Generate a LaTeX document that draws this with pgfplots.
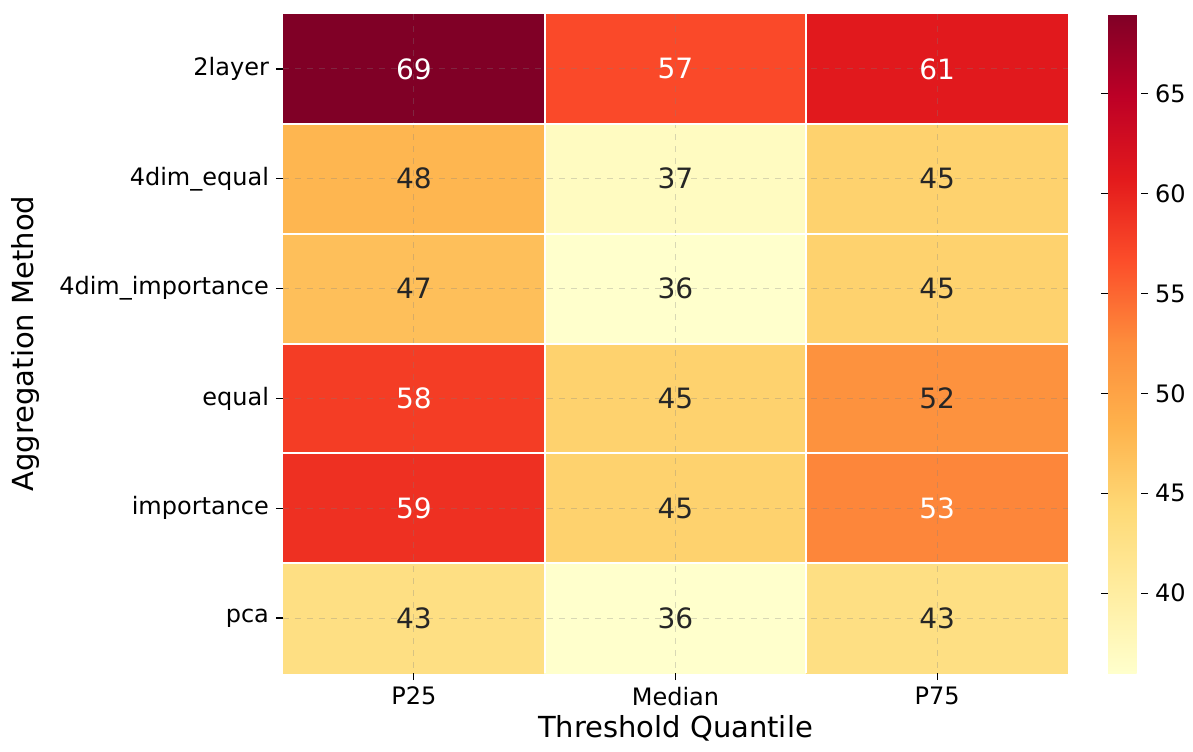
\documentclass[border=0pt]{standalone}
\usepackage{pgfplots}
\pgfplotsset{compat=1.18}
\usepackage{pgfplotstable}
\usepackage{fontspec}
\setmainfont{DejaVu Sans}

% cell values: column (x), row (y, top to bottom), value
\pgfplotstableread{
x y v
0 0 69
1 0 57
2 0 61
0 1 48
1 1 37
2 1 45
0 2 47
1 2 36
2 2 45
0 3 58
1 3 45
2 3 52
0 4 59
1 4 45
2 4 53
0 5 43
1 5 36
2 5 43
}\heat

\pgfplotsset{
  /pgf/number format/assume math mode=true,
  colormap={ylorrd}{
    rgb255=(255,255,204) rgb255=(255,237,160) rgb255=(254,217,118)
    rgb255=(254,178,76) rgb255=(253,141,60) rgb255=(252,78,42)
    rgb255=(227,26,28) rgb255=(189,0,38) rgb255=(128,0,38)},
}

\definecolor{annodark}{HTML}{262626}

\begin{document}
\begin{tikzpicture}
\path[use as bounding box] (-141.5pt,-39pt) rectangle (455pt,336.5pt);
\begin{axis}[
  scale only axis,
  width=392.5pt, height=329.5pt,
  xmin=-0.5, xmax=2.5, ymin=-0.5, ymax=5.5,
  y dir=reverse,
  xtick={0,1,2}, xticklabels={P25,Median,P75},
  ytick={0,...,5},
  yticklabels={2layer,4dim\_equal,4dim\_importance,equal,importance,pca},
  xtick pos=bottom, ytick pos=left,
  tick align=outside,
  major tick length=3.5pt,
  tick style={black, line width=0.6pt},
  axis line style={draw=none},
  ticklabel style={font=\fontsize{12}{14}\selectfont},
  xlabel={Threshold Quantile},
  ylabel={Aggregation Method},
  every axis x label/.style={at={(axis description cs:0.5,-0.0835)}, anchor=center,
    font=\fontsize{14.5}{17}\selectfont},
  every axis y label/.style={at={(axis description cs:-0.3274,0.5)}, rotate=90, anchor=center,
    font=\fontsize{14.5}{17}\selectfont},
  grid=major,
  major grid style={dashed, gray, opacity=0.3, line width=0.5pt},
  extra x ticks={0.5,1.5}, extra x tick labels={},
  extra y ticks={0.5,1.5,2.5,3.5,4.5}, extra y tick labels={},
  extra tick style={major tick length=0pt,
    major grid style={solid, white, opacity=1, line width=1pt}},
  axis on top,
  colormap name=ylorrd,
  point meta min=36, point meta max=69,
  colorbar,
  colorbar style={
    at={(parent axis.north east)}, anchor=north west, xshift=11.5pt,
    width=16.5pt,
    ytick={40,45,...,65},
    axis line style={draw=none},
    tick align=outside,
    major tick length=3.5pt,
    tick style={black, line width=0.6pt},
    yticklabel style={font=\fontsize{12}{14}\selectfont},
  },
]
\addplot[matrix plot*, mesh/cols=3, point meta=explicit]
  table[x=x, y=y, meta=v] {\heat};

% value labels, light text on the darker cells
\addplot[draw=none, mark=none, point meta=\thisrow{v},
  restrict expr to domain={\thisrow{v}}{53:100},
  nodes near coords={\pgfmathprintnumber{\pgfplotspointmeta}},
  nodes near coords align=center,
  every node near coord/.append style={anchor=center, text=white,
    font=\fontsize{14}{16}\selectfont}]
  table[x=x, y=y] {\heat};
\addplot[draw=none, mark=none, point meta=\thisrow{v},
  restrict expr to domain={\thisrow{v}}{0:52.9},
  nodes near coords={\pgfmathprintnumber{\pgfplotspointmeta}},
  nodes near coords align=center,
  every node near coord/.append style={anchor=center, text=annodark,
    font=\fontsize{14}{16}\selectfont}]
  table[x=x, y=y] {\heat};
\end{axis}
\end{tikzpicture}
\end{document}
